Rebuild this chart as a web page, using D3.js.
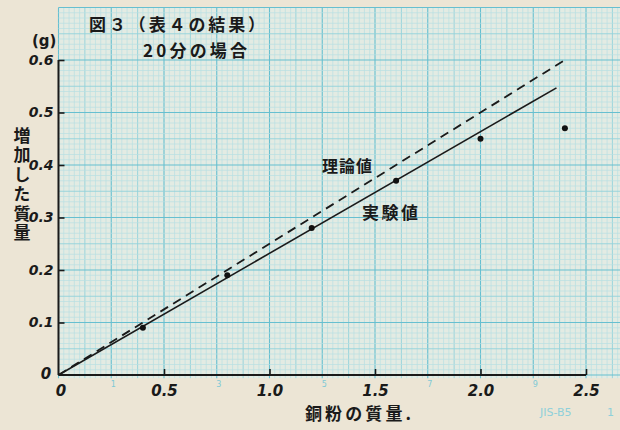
<!DOCTYPE html>
<html><head><meta charset="utf-8">
<script src="https://cdn.jsdelivr.net/npm/d3@7/dist/d3.min.js"></script>
<style>
html,body{margin:0;padding:0;background:#ece5d5;}
svg{display:block;}
</style></head>
<body>
<svg id="c" width="620" height="430"></svg>
<script>
// ---- data ----
const copperMass   = [0.4, 0.8, 1.2, 1.6, 2.0, 2.4];      // 銅粉の質量 (g)
const massIncrease = [0.09, 0.19, 0.28, 0.37, 0.45, 0.47]; // 増加した質量 (g)
const theoryLine   = [[0, 0], [2.4, 0.6]];                 // 理論値
const experimentLine = [[0, 0], [2.36, 0.547]];            // 実験値
const xTicks = [0.5, 1.0, 1.5, 2.0, 2.5];
const xTickLabels = ["0.5", "1.0", "1.5", "2.0", "2.5"];
const yTicks = [0.1, 0.2, 0.3, 0.4, 0.5, 0.6];
const yTickLabels = ["0.1", "0.2", "0.3", "0.4", "0.5", "0.6"];
const paperNumbers = [1, 3, 5, 7, 9];   // printed scale numbers visible on the paper

const svg = d3.select("#c");
const x = d3.scaleLinear().domain([0, 2.5]).range([58.5, 586]);
const y = d3.scaleLinear().domain([0, 0.6]).range([375, 60]);

const hand = "'Noto Sans CJK JP', sans-serif";
const num = "'DejaVu Sans', sans-serif";

// paper background
svg.append("rect").attr("width", 620).attr("height", 430).attr("fill", "#ece5d5");
const gx0 = x(0), gx1 = 620, gy0 = y(0.7), gy1 = y(-0.006);
svg.append("rect").attr("x", gx0).attr("y", gy0).attr("width", gx1 - gx0).attr("height", gy1 - gy0)
  .attr("fill", "#e3ebe3");

// graph-paper grid
const grid = svg.append("g");
const xMinor = d3.range(0, 2.68, 0.025);
xMinor.forEach((v, i) => {
  const major = i % 10 === 0, mid = i % 5 === 0;
  grid.append("line").attr("x1", x(v)).attr("x2", x(v)).attr("y1", gy0).attr("y2", gy1)
    .attr("stroke", major ? "#66bfd0" : mid ? "#92d1da" : "#b8e0e2")
    .attr("stroke-width", major ? 1.1 : mid ? 0.9 : 0.7);
});
const yMinor = d3.range(-0.0, 0.7001, 0.01);
yMinor.forEach((v, i) => {
  const major = i % 10 === 0, mid = i % 5 === 0;
  grid.append("line").attr("x1", gx0).attr("x2", gx1).attr("y1", y(v)).attr("y2", y(v))
    .attr("stroke", major ? "#66bfd0" : mid ? "#92d1da" : "#b8e0e2")
    .attr("stroke-width", major ? 1.1 : mid ? 0.9 : 0.7);
});

// paper's printed numbers
svg.append("g").selectAll("text").data(paperNumbers).join("text")
  .attr("x", d => x(d * 0.25) + 2).attr("y", 387)
  .attr("text-anchor", "middle").attr("font-family", num).attr("font-size", 8)
  .attr("fill", "#7fc9d6").text(d => d);
svg.append("text").attr("x", 540).attr("y", 416).attr("font-family", num).attr("font-size", 11)
  .attr("fill", "#8fd0da").text("JIS-B5");
svg.append("text").attr("x", 607).attr("y", 416).attr("font-family", num).attr("font-size", 11)
  .attr("fill", "#8fd0da").text("1");

// axes
const xAxis = svg.append("g").attr("transform", `translate(0,${y(0)})`)
  .call(d3.axisBottom(x).tickValues(xTicks).tickSize(-6).tickFormat((d, i) => xTickLabels[i]));
xAxis.select(".domain").attr("stroke", "#1a1a1a").attr("stroke-width", 2).attr("d", `M${x(0)},0H${x(2.5)}`);
xAxis.selectAll(".tick line").attr("stroke", "#1a1a1a").attr("stroke-width", 1.6);
xAxis.selectAll(".tick text").attr("y", 10).attr("dy", "0.7em")
  .attr("font-family", num).attr("font-style", "italic").attr("font-weight", "bold")
  .attr("font-size", 15).attr("fill", "#1a1a1a");

const yAxis = svg.append("g").attr("transform", `translate(${x(0)},0)`)
  .call(d3.axisLeft(y).tickValues(yTicks).tickSize(-6).tickFormat((d, i) => yTickLabels[i]));
yAxis.select(".domain").attr("stroke", "#1a1a1a").attr("stroke-width", 2).attr("d", `M0,${y(0)}V${y(0.6)}`);
yAxis.selectAll(".tick line").attr("stroke", "#1a1a1a").attr("stroke-width", 1.6);
yAxis.selectAll(".tick text").attr("x", -5)
  .attr("font-family", num).attr("font-style", "italic").attr("font-weight", "bold")
  .attr("font-size", 14).attr("fill", "#1a1a1a");

// origin zeros
svg.append("text").attr("x", 46).attr("y", 379).attr("text-anchor", "middle")
  .attr("font-family", num).attr("font-style", "italic").attr("font-weight", "bold").attr("font-size", 15)
  .attr("fill", "#1a1a1a").text("0");
svg.append("text").attr("x", 61).attr("y", 396).attr("text-anchor", "middle")
  .attr("font-family", num).attr("font-style", "italic").attr("font-weight", "bold").attr("font-size", 15)
  .attr("fill", "#1a1a1a").text("0");

// lines
const line = d3.line().x(d => x(d[0])).y(d => y(d[1]));
svg.append("path").attr("d", line(theoryLine)).attr("fill", "none")
  .attr("stroke", "#1a1a1a").attr("stroke-width", 1.8).attr("stroke-dasharray", "9,6");
svg.append("path").attr("d", line(experimentLine)).attr("fill", "none")
  .attr("stroke", "#1a1a1a").attr("stroke-width", 1.6);

// points
svg.append("g").selectAll("circle").data(copperMass).join("circle")
  .attr("cx", d => x(d)).attr("cy", (d, i) => y(massIncrease[i])).attr("r", 3)
  .attr("fill", "#111");

// texts
function t(str, xx, yy, size, extra) {
  const e = svg.append("text").attr("x", xx).attr("y", yy).attr("font-family", hand)
    .attr("font-weight", "bold").attr("font-size", size).attr("fill", "#1a1a1a")
    .attr("dominant-baseline", "central").text(str);
  if (extra) extra(e);
  return e;
}
t("図３（表４の結果）", 89, 23, 17, e => e.attr("textLength", 176).attr("lengthAdjust", "spacing"));
t("20分の場合", 143, 49, 17, e => e.attr("textLength", 104).attr("lengthAdjust", "spacing"));
t("(g)", 32, 41, 15, e => e.attr("font-family", num));
t("理論値", 322, 165, 16, e => e.attr("textLength", 50).attr("lengthAdjust", "spacing"));
t("実験値", 362, 211, 17, e => e.attr("textLength", 56).attr("lengthAdjust", "spacing"));
t("銅粉の質量.", 305, 412, 17, e => e.attr("textLength", 106).attr("lengthAdjust", "spacing"));

// vertical y label (single vertical text)
svg.append("text").attr("x", 22).attr("y", 127)
  .style("writing-mode", "vertical-rl")
  .attr("font-family", hand).attr("font-weight", "bold").attr("font-size", 17)
  .attr("letter-spacing", 2.5)
  .attr("fill", "#1a1a1a").text("増加した質量");
</script>
</body></html>
